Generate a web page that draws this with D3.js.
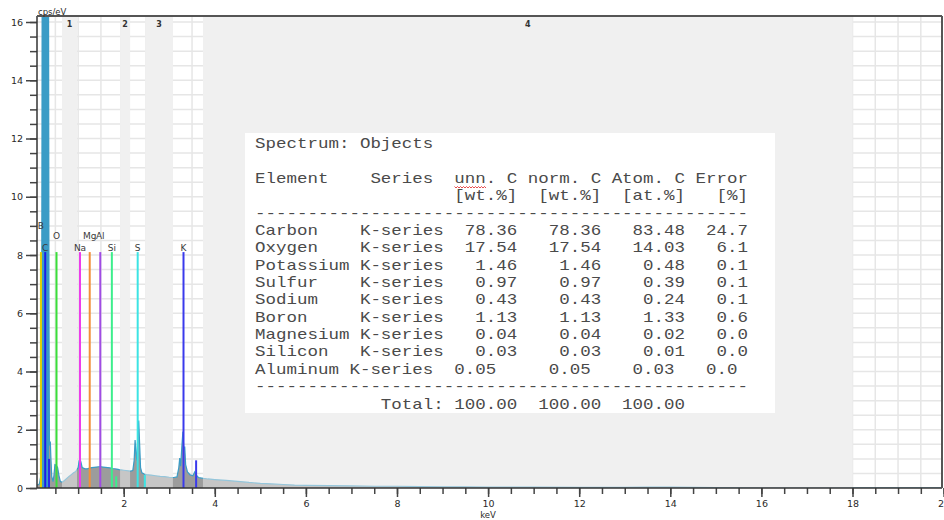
<!DOCTYPE html>
<html>
<head>
<meta charset="utf-8">
<script src="https://cdn.jsdelivr.net/npm/d3@7"></script>
<style>
  html, body { margin: 0; padding: 0; background: #fff; overflow: hidden; }
  svg { display: block; }
  .mono { font-family: "Liberation Mono", "Courier New", monospace; white-space: pre; }
</style>
</head>
<body>
<svg id="chart" width="944" height="520"></svg>
<script>
// EDS spectrum, [energy keV, intensity cps/eV]
const spectrum = [
  [0.10,0.10],[0.15,0.14],[0.19,0.50],[0.20,4.0],[0.21,17],[0.23,26],[0.25,30],[0.27,31],
  [0.29,29],[0.31,26],[0.33,21],[0.35,17],[0.36,6.0],[0.37,1.5],[0.39,1.55],[0.40,1.1],
  [0.42,0.40],[0.45,0.22],[0.47,0.45],[0.49,0.80],[0.52,0.78],[0.55,0.70],[0.58,0.42],
  [0.61,0.22],[0.65,0.20],[0.70,0.26],[0.75,0.33],[0.80,0.40],[0.85,0.46],[0.90,0.52],
  [0.95,0.57],[1.00,0.70],[1.02,0.92],[1.04,1.00],[1.06,0.90],[1.09,0.70],[1.15,0.66],
  [1.20,0.66],[1.25,0.68],[1.30,0.70],[1.35,0.71],[1.40,0.72],[1.45,0.73],[1.50,0.73],
  [1.55,0.72],[1.60,0.71],[1.65,0.70],[1.70,0.69],[1.75,0.67],[1.80,0.66],[1.85,0.65],
  [1.90,0.63],[1.95,0.62],[2.00,0.61],[2.05,0.60],[2.10,0.59],[2.15,0.58],[2.20,0.60],
  [2.23,0.95],[2.25,1.65],[2.27,1.20],[2.29,0.95],[2.31,1.80],[2.33,2.32],[2.35,1.50],
  [2.37,0.70],[2.40,0.52],[2.45,0.48],[2.50,0.46],[2.60,0.44],[2.70,0.42],[2.80,0.40],
  [2.90,0.39],[3.00,0.37],[3.10,0.36],[3.17,0.38],[3.21,0.70],[3.23,1.03],[3.25,0.75],
  [3.28,1.50],[3.30,1.94],[3.32,1.30],[3.34,1.42],[3.36,0.80],[3.40,0.55],[3.46,0.45],
  [3.52,0.42],[3.56,0.55],[3.59,0.45],[3.64,0.36],[3.75,0.33],[3.85,0.31],[4.00,0.29],
  [4.25,0.26],[4.50,0.23],[4.75,0.19],[5.00,0.16],[5.25,0.14],[5.50,0.12],[5.75,0.10],
  [6.00,0.09],[6.50,0.08],[7.00,0.07],[7.50,0.06],[8.00,0.06],[8.50,0.05],[9.00,0.04],
  [9.50,0.04],[10.00,0.03],[11.00,0.03],[12.00,0.02],[13.00,0.02],[13.50,0.03],[14.00,0.03],
  [14.50,0.02],[15.00,0.01],[16.00,0.00],[20.00,0.00]
];

// regions of interest, [label, from keV, to keV]
const regions = [
  ["1", 0.645, 0.975],
  ["2", 1.92, 2.14],
  ["3", 2.47, 3.08],
  ["4", 3.74, 18.0]
];

// element line markers: symbol, energy keV, marker height cps/eV, colour, label row
const elementLines = [
  ["B",  0.183, 8.1, "#e4d000", 0],
  ["C",  0.277, 8.1, "#1c1ce6", 2],
  ["O",  0.525, 8.1, "#3ade3a", 1],
  ["Na", 1.041, 8.1, "#ec3cec", 2],
  ["Mg", 1.254, 8.1, "#f29038", 1],
  ["Al", 1.486, 8.1, "#a04ce4", 1],
  ["Si", 1.740, 8.1, "#3cee8c", 2],
  ["S",  2.307, 8.1, "#3ce4e4", 2],
  ["K",  3.313, 8.1, "#3a3aec", 2]
];
// weaker lines of the same elements, drawn without labels
const minorLines = [
  [0.36, 1.0, "#2a2ae6"],
  [1.836, 0.40, "#3cee8c"],
  [2.464, 0.45, "#3ce4e4"],
  [3.59, 0.95, "#3a3aec"]
];

const xMajorTicks = [2, 4, 6, 8, 10, 12, 14, 16, 18, 20];
const yMajorTicks = [0, 2, 4, 6, 8, 10, 12, 14, 16];

// quantification results
const tableTitle = "Spectrum: Objects";
const tableHeader = "Element    Series  unn. C norm. C Atom. C Error";
const tableUnits = "                   [wt.%]  [wt.%]  [at.%]   [%]";
const elementNames = ["Carbon","Oxygen","Potassium","Sulfur","Sodium","Boron","Magnesium","Silicon","Aluminum"];
const seriesNames = ["K-series","K-series","K-series","K-series","K-series","K-series","K-series","K-series","K-series"];
const unnC  = [78.36, 17.54, 1.46, 0.97, 0.43, 1.13, 0.04, 0.03, 0.05];
const normC = [78.36, 17.54, 1.46, 0.97, 0.43, 1.13, 0.04, 0.03, 0.05];
const atomC = [83.48, 14.03, 0.48, 0.39, 0.24, 1.33, 0.02, 0.01, 0.03];
const errorPct = [24.7, 6.1, 0.1, 0.1, 0.1, 0.6, 0.0, 0.0, 0.0];
const totals = [100.00, 100.00, 100.00];

// ---------------------------------------------------------------
const svg = d3.select("#chart");
const pLeft = 37, pRight = 942, pTop = 16, pBottom = 488;
const sansFont = "DejaVu Sans, Verdana, sans-serif";

const x = d3.scaleLinear().domain([0.1, 20]).range([37.15, 943.6]);
const y = d3.scaleLinear().domain([0, 16]).range([pBottom, 22]);

svg.append("defs").append("clipPath").attr("id", "plotClip")
  .append("rect").attr("x", pLeft).attr("y", pTop).attr("width", pRight - pLeft).attr("height", pBottom - pTop);

const plot = svg.append("g").attr("clip-path", "url(#plotClip)");

// background + grid every 0.5 keV / 0.5 cps
plot.append("rect").attr("x", pLeft).attr("y", pTop).attr("width", pRight - pLeft).attr("height", pBottom - pTop).attr("fill", "#fff");
plot.append("g").selectAll("line").data(d3.range(0.5, 20, 0.5)).join("line")
  .attr("x1", d => x(d)).attr("x2", d => x(d)).attr("y1", pTop).attr("y2", pBottom)
  .attr("stroke", "#e6e6e6").attr("stroke-width", 1.5);
plot.append("g").selectAll("line").data(d3.range(0.5, 16.5, 0.5)).join("line")
  .attr("x1", pLeft).attr("x2", pRight).attr("y1", d => y(d)).attr("y2", d => y(d))
  .attr("stroke", "#e6e6e6").attr("stroke-width", 1.5);

// regions of interest (opaque band under the spectrum)
plot.append("g").selectAll("rect").data(regions).join("rect")
  .attr("x", d => x(d[1])).attr("width", d => x(d[2]) - x(d[1]))
  .attr("y", pTop).attr("height", pBottom - pTop).attr("fill", "#f0f0f0");

// spectrum
const area = d3.area().x(d => x(d[0])).y0(y(0)).y1(d => y(d[1]));
plot.append("path").datum(spectrum).attr("d", area).attr("fill", "#9c9c9c");
const peakArea = d3.area().defined(d => d[1] >= 3).x(d => x(d[0])).y0(y(0)).y1(d => y(d[1]));
plot.append("path").datum(spectrum).attr("d", peakArea).attr("fill", "#3a9cc6");
plot.append("path").datum(spectrum)
  .attr("d", d3.line().x(d => x(d[0])).y(d => y(d[1])))
  .attr("fill", "none").attr("stroke", "#3a9cc6").attr("stroke-width", 1.2);

// regions of interest (translucent veil over the spectrum)
plot.append("g").selectAll("rect").data(regions).join("rect")
  .attr("x", d => x(d[1])).attr("width", d => x(d[2]) - x(d[1]))
  .attr("y", pTop).attr("height", pBottom - pTop).attr("fill", "#f0f0f0").attr("opacity", 0.5);

// element marker lines
plot.append("g").selectAll("line").data(minorLines).join("line")
  .attr("x1", d => x(d[0])).attr("x2", d => x(d[0]))
  .attr("y1", d => y(d[1])).attr("y2", y(0))
  .attr("stroke", d => d[2]).attr("stroke-width", 2);
plot.append("g").selectAll("line").data(elementLines).join("line")
  .attr("x1", d => x(d[1])).attr("x2", d => x(d[1]))
  .attr("y1", d => y(d[2])).attr("y2", y(0))
  .attr("stroke", d => d[3]).attr("stroke-width", 2);

const labelRowY = [229, 238.5, 250.5];
plot.append("g").selectAll("text").data(elementLines).join("text")
  .attr("x", d => x(d[1])).attr("y", d => labelRowY[d[4]])
  .attr("text-anchor", "middle")
  .attr("font-family", sansFont).attr("font-size", 9)
  .attr("fill", "#3a3a3a").text(d => d[0]);

// region labels along the top
plot.append("g").selectAll("text").data(regions).join("text")
  .attr("x", d => x((d[1] + d[2]) / 2)).attr("y", 26.5)
  .attr("text-anchor", "middle")
  .attr("font-family", sansFont).attr("font-size", 8).attr("font-weight", "bold")
  .attr("fill", "#333").text(d => d[0]);

// axes
const tickFont = g => g.selectAll("text")
  .attr("font-family", sansFont).attr("font-size", 9.5).attr("fill", "#2a2a2a");

const xMinor = svg.append("g").attr("transform", `translate(0,${pBottom})`)
  .call(d3.axisBottom(x).tickValues(d3.range(0.5, 20.01, 0.5)).tickSize(6).tickFormat(""));
const xMajor = svg.append("g").attr("transform", `translate(0,${pBottom})`)
  .call(d3.axisBottom(x).tickValues(xMajorTicks).tickSize(9).tickPadding(3).tickFormat(d3.format("d")));
const yMinor = svg.append("g").attr("transform", `translate(${pLeft},0)`)
  .call(d3.axisLeft(y).tickValues(d3.range(0, 16.01, 0.5)).tickSize(7).tickFormat(""));
const yMajor = svg.append("g").attr("transform", `translate(${pLeft},0)`)
  .call(d3.axisLeft(y).tickValues(yMajorTicks).tickSize(11).tickPadding(3).tickFormat(d3.format("d")));
[xMinor, xMajor, yMinor, yMajor].forEach(g => {
  g.select(".domain").remove();
  g.selectAll("line").attr("stroke", "#444").attr("stroke-width", 1.5);
  g.call(tickFont);
});

// frame
svg.append("line").attr("x1", pLeft).attr("x2", pRight).attr("y1", pBottom).attr("y2", pBottom).attr("stroke", "#333").attr("stroke-width", 1.5);
svg.append("line").attr("x1", pLeft).attr("x2", pLeft).attr("y1", pTop).attr("y2", pBottom).attr("stroke", "#333").attr("stroke-width", 1.5);
svg.append("line").attr("x1", pLeft).attr("x2", pRight).attr("y1", pTop).attr("y2", pTop).attr("stroke", "#555").attr("stroke-width", 2);
svg.append("line").attr("x1", pRight).attr("x2", pRight).attr("y1", pTop).attr("y2", pBottom).attr("stroke", "#555").attr("stroke-width", 2);

// axis titles
svg.append("text").attr("x", 38).attr("y", 14.5)
  .attr("font-family", sansFont).attr("font-size", 8.5).attr("fill", "#2a2a2a").text("cps/eV");
svg.append("text").attr("x", x(10)).attr("y", 517.5).attr("text-anchor", "middle")
  .attr("font-family", sansFont).attr("font-size", 8.5).attr("fill", "#2a2a2a").text("keV");

// quantification table
const cw = 10.5;            // character cell width
const tableLeft = 255, firstBaseline = 148.3, lineStep = 17.35;
const fmtRow = (i, w) =>
  elementNames[i].padEnd(w[0]) + seriesNames[i] +
  unnC[i].toFixed(2).padStart(w[1]) + normC[i].toFixed(2).padStart(w[2]) +
  atomC[i].toFixed(2).padStart(w[3]) + errorPct[i].toFixed(1).padStart(w[4]);
const rowWidths = elementNames.map(n => n === "Aluminum" ? [9, 6, 9, 8, 6] : [10, 7, 8, 8, 6]);
const dashes = "-".repeat(47);
const tableLines = [
  tableTitle, "", tableHeader, tableUnits, dashes,
  ...elementNames.map((_, i) => fmtRow(i, rowWidths[i])),
  dashes,
  " ".repeat(12) + "Total:" + totals.map((t, k) => t.toFixed(2).padStart(k === 0 ? 7 : 8)).join("")
];

svg.append("rect").attr("x", 245).attr("y", 133).attr("width", 530).attr("height", 280).attr("fill", "#fff");
const table = svg.append("g").attr("transform", `translate(${tableLeft},0) scale(${cw / 8.4},1)`);
table.selectAll("text").data(tableLines).join("text")
  .attr("class", "mono")
  .attr("x", 0).attr("y", (d, i) => firstBaseline + i * lineStep)
  .attr("font-size", 14).attr("fill", "#4a4a4a")
  .text(d => d);

// spell-check underline beneath "unn"
const wave = d3.range(0, 3 * cw + 0.1, 1.5).map((d, i) => [tableLeft + 19 * cw + d, 187 + (i % 2 ? 1 : -0.5)]);
svg.append("path").attr("d", d3.line()(wave)).attr("fill", "none").attr("stroke", "#e02020").attr("stroke-width", 0.8);
</script>
</body>
</html>
